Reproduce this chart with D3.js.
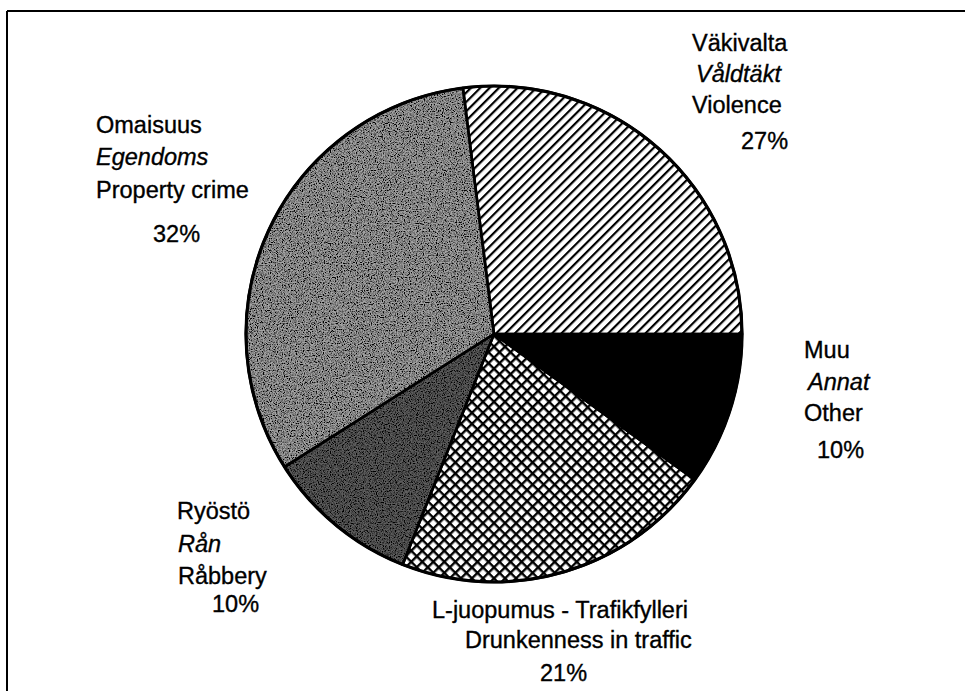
<!DOCTYPE html>
<html>
<head>
<meta charset="utf-8">
<script src="https://cdn.jsdelivr.net/npm/d3@7"></script>
<style>
  body { margin: 0; background: #fff; }
  svg text { font-family: "Liberation Sans", Arial, Helvetica, sans-serif; font-size: 23.5px; fill: #000; stroke: #000; stroke-width: 0.35px; }
</style>
</head>
<body>
<svg id="chart" width="965" height="691"></svg>
<script>
// slices, clockwise starting at 3 o'clock
var categories = ["Muu", "L-juopumus", "Ryöstö", "Omaisuus", "Väkivalta"];
var values = [10, 21, 10, 32, 27];
var finnish = ["Muu", "L-juopumus - Trafikfylleri", "Ryöstö", "Omaisuus", "Väkivalta"];
var swedish = ["Annat", "", "Rån", "Egendoms", "Våldtäkt"];
var english = ["Other", "Drunkenness in traffic", "Råbbery", "Property crime", "Violence"];
var percents = ["10%", "21%", "10%", "32%", "27%"];

// label placement (x of each line, baselines)
var labelLayout = [
  { x: [804, 808, 804, 817], y: [358, 390, 421, 458] },
  { x: [432, null, 465, 540], y: [618, null, 648, 681] },
  { x: [177, 178, 178, 212], y: [519, 552, 584, 612] },
  { x: [96, 96, 96, 153], y: [133, 165, 198, 242] },
  { x: [692, 696, 692, 741], y: [51, 82, 113, 149] }
];

var svg = d3.select("#chart");
var cx = 494, cy = 334, r = 248;

var defs = svg.append("defs");

// diagonal hatch
var hatch = defs.append("pattern")
  .attr("id", "hatch").attr("patternUnits", "userSpaceOnUse")
  .attr("width", 6.6).attr("height", 6.6)
  .attr("patternTransform", "rotate(45)");
hatch.append("rect").attr("width", 6.6).attr("height", 6.6).attr("fill", "#fff");
hatch.append("rect").attr("x", 0).attr("width", 2.2).attr("height", 6.6).attr("fill", "#000");

// cross hatch
var cross = defs.append("pattern")
  .attr("id", "cross").attr("patternUnits", "userSpaceOnUse")
  .attr("width", 7.8).attr("height", 7.8)
  .attr("patternTransform", "rotate(45)");
cross.append("rect").attr("width", 7.8).attr("height", 7.8).attr("fill", "#fff");
cross.append("rect").attr("width", 2.4).attr("height", 7.8).attr("fill", "#000");
cross.append("rect").attr("width", 7.8).attr("height", 2.4).attr("fill", "#000");

// grainy print texture for the grey slices
var grain = defs.append("filter").attr("id", "grain")
  .attr("x", 0).attr("y", 0).attr("width", 1).attr("height", 1);
grain.append("feTurbulence").attr("type", "fractalNoise")
  .attr("baseFrequency", 0.85).attr("numOctaves", 2).attr("seed", 3).attr("result", "n");
grain.append("feColorMatrix").attr("in", "n").attr("type", "matrix")
  .attr("values", "0 0 0 0 0  0 0 0 0 0  0 0 0 0 0  0 0 0 -3 1.9").attr("result", "dots");
grain.append("feComposite").attr("in", "dots").attr("in2", "SourceGraphic").attr("operator", "in").attr("result", "d");
var merge = grain.append("feMerge");
merge.append("feMergeNode").attr("in", "SourceGraphic");
merge.append("feMergeNode").attr("in", "d");

var fills = ["#000", "url(#cross)", "#5e5e5e", "#a4a4a4", "url(#hatch)"];

// frame (top and left only, as scanned)
svg.append("line").attr("x1", 7).attr("y1", 11).attr("x2", 965).attr("y2", 11)
  .attr("stroke", "#000").attr("stroke-width", 2);
svg.append("line").attr("x1", 7).attr("y1", 11).attr("x2", 7).attr("y2", 691)
  .attr("stroke", "#000").attr("stroke-width", 2);

var pie = d3.pie().sort(null).startAngle(Math.PI / 2).endAngle(Math.PI / 2 + 2 * Math.PI);
var arc = d3.arc().innerRadius(0).outerRadius(r);
var arcs = pie(values);

var g = svg.append("g").attr("transform", "translate(" + cx + "," + cy + ")");

g.selectAll("path.fill").data(arcs).enter().append("path")
  .attr("class", "fill")
  .attr("d", arc)
  .attr("fill", function(d, i) { return fills[i]; })
  .attr("filter", function(d, i) { return (i == 2 || i == 3) ? "url(#grain)" : null; });

g.selectAll("path.edge").data(arcs).enter().append("path")
  .attr("class", "edge")
  .attr("d", arc)
  .attr("fill", "none")
  .attr("stroke", "#000")
  .attr("stroke-width", 2.6)
  .attr("stroke-linejoin", "round");

g.append("circle").attr("r", r).attr("fill", "none").attr("stroke", "#000").attr("stroke-width", 3.2);

// labels
var lab = svg.append("g");
categories.forEach(function(c, i) {
  var lines = [finnish[i], swedish[i], english[i], percents[i]];
  lines.forEach(function(t, j) {
    if (!t) return;
    lab.append("text")
      .attr("x", labelLayout[i].x[j])
      .attr("y", labelLayout[i].y[j])
      .style("font-style", j == 1 ? "italic" : "normal")
      .text(t);
  });
});
</script>
</body>
</html>
